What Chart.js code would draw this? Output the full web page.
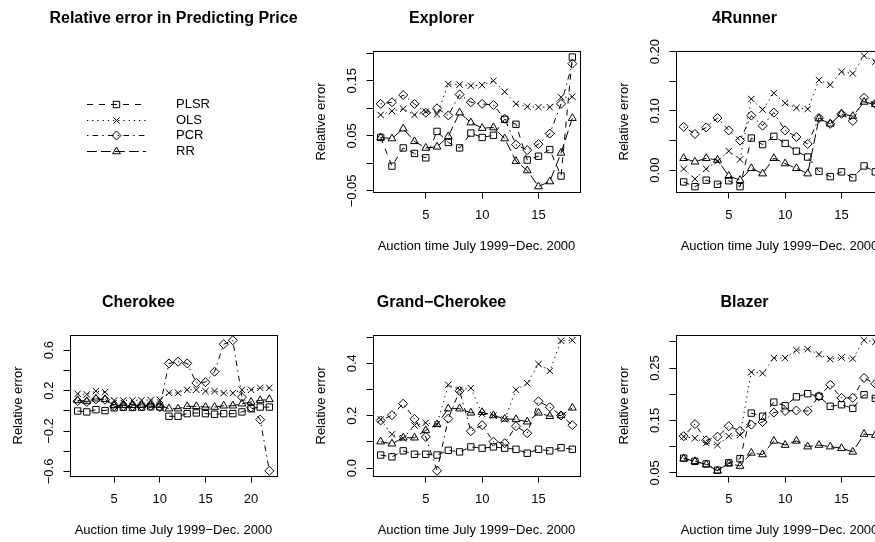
<!DOCTYPE html>
<html>
<head>
<meta charset="utf-8">
<script src="https://cdn.jsdelivr.net/npm/chart.js@4.4.1/dist/chart.umd.min.js"></script>
<style>
  html, body { margin: 0; padding: 0; background: #fff; }
  body { width: 875px; height: 542px; overflow: hidden; position: relative; }
  canvas { position: absolute; }
</style>
</head>
<body>
<canvas id="keyPanel" width="347" height="262" style="left:0px;top:0px"></canvas>
<canvas id="explorer" width="297" height="262" style="left:303px;top:0px"></canvas>
<canvas id="runner" width="297" height="262" style="left:606px;top:0px"></canvas>
<canvas id="cherokee" width="297" height="262" style="left:0px;top:284px"></canvas>
<canvas id="grand" width="297" height="262" style="left:303px;top:284px"></canvas>
<canvas id="blazer" width="297" height="262" style="left:606px;top:284px"></canvas>
<script>
// auction periods
const periods18 = [1, 2, 3, 4, 5, 6, 7, 8, 9, 10, 11, 12, 13, 14, 15, 16, 17, 18];
const periods22 = [1, 2, 3, 4, 5, 6, 7, 8, 9, 10, 11, 12, 13, 14, 15, 16, 17, 18, 19, 20, 21, 22];
const methods = ['PLSR', 'OLS', 'PCR', 'RR'];

// Explorer
const explorerPLSR = [0.047, -0.005, 0.028, 0.018, 0.010, 0.058, 0.038, 0.028, 0.055, 0.047, 0.051, 0.080, 0.071, 0.006, 0.013, 0.025, -0.023, 0.193];
const explorerOLS  = [0.088, 0.095, 0.099, 0.088, 0.094, 0.089, 0.144, 0.143, 0.141, 0.142, 0.150, 0.130, 0.108, 0.103, 0.102, 0.102, 0.120, 0.121];
const explorerPCR  = [0.108, 0.111, 0.124, 0.108, 0.092, 0.100, 0.087, 0.125, 0.111, 0.108, 0.106, 0.081, 0.034, 0.024, 0.035, 0.054, 0.108, 0.181];
const explorerRR   = [0.047, 0.045, 0.063, 0.040, 0.028, 0.030, 0.049, 0.092, 0.074, 0.064, 0.065, 0.045, 0.004, -0.013, -0.042, -0.033, 0.019, 0.082];

// 4Runner
const runnerPLSR = [-0.020, -0.028, -0.017, -0.024, -0.018, -0.028, 0.054, 0.043, 0.057, 0.045, 0.032, 0.022, -0.002, -0.011, -0.003, -0.013, 0.007, -0.003];
const runnerOLS  = [0.002, -0.015, 0.002, 0.015, 0.032, 0.018, 0.120, 0.102, 0.130, 0.113, 0.105, 0.103, 0.152, 0.144, 0.166, 0.163, 0.193, 0.183];
const runnerPCR  = [0.073, 0.061, 0.072, 0.088, 0.067, 0.050, 0.092, 0.075, 0.097, 0.067, 0.056, 0.044, 0.088, 0.078, 0.095, 0.083, 0.122, 0.112];
const runnerRR   = [0.020, 0.014, 0.020, 0.017, -0.010, -0.017, 0.003, -0.006, 0.020, 0.011, 0.003, -0.006, 0.087, 0.078, 0.095, 0.091, 0.115, 0.111];

// Cherokee
const cherokeePLSR = [-0.002, -0.011, 0.011, 0.002, 0.030, 0.035, 0.033, 0.036, 0.040, 0.038, -0.054, -0.054, -0.028, -0.021, -0.028, -0.034, -0.028, -0.028, -0.011, 0.021, 0.037, 0.037];
const cherokeeOLS  = [0.168, 0.162, 0.195, 0.185, 0.103, 0.103, 0.104, 0.105, 0.107, 0.109, 0.178, 0.178, 0.208, 0.208, 0.195, 0.195, 0.175, 0.175, 0.208, 0.208, 0.227, 0.227];
const cherokeePCR  = [0.096, 0.087, 0.113, 0.109, 0.044, 0.044, 0.045, 0.046, 0.048, 0.037, 0.469, 0.486, 0.469, 0.276, 0.283, 0.387, 0.659, 0.698, 0.136, 0.031, -0.087, -0.594];
const cherokeeRR   = [0.103, 0.093, 0.119, 0.113, 0.054, 0.054, 0.055, 0.056, 0.058, 0.056, 0.021, 0.021, 0.044, 0.044, 0.037, 0.037, 0.050, 0.050, 0.070, 0.087, 0.103, 0.113];

// Grand-Cherokee
const grandPLSR = [0.050, 0.043, 0.066, 0.053, 0.053, 0.050, 0.068, 0.062, 0.081, 0.076, 0.081, 0.076, 0.072, 0.057, 0.072, 0.066, 0.078, 0.072];
const grandOLS  = [0.186, 0.129, 0.114, 0.163, 0.173, 0.167, 0.318, 0.299, 0.305, 0.207, 0.201, 0.186, 0.299, 0.324, 0.397, 0.371, 0.486, 0.488];
const grandPCR  = [0.182, 0.202, 0.246, 0.188, 0.119, -0.010, 0.189, 0.295, 0.141, 0.164, 0.101, 0.095, 0.160, 0.133, 0.255, 0.233, 0.201, 0.164];
const grandRR   = [0.101, 0.093, 0.116, 0.116, 0.144, 0.167, 0.227, 0.227, 0.211, 0.213, 0.201, 0.188, 0.186, 0.177, 0.211, 0.198, 0.201, 0.230];

// Blazer
const blazerPLSR = [0.078, 0.072, 0.067, 0.055, 0.069, 0.077, 0.164, 0.158, 0.185, 0.178, 0.195, 0.201, 0.196, 0.177, 0.180, 0.173, 0.199, 0.192];
const blazerOLS  = [0.119, 0.116, 0.107, 0.103, 0.120, 0.122, 0.242, 0.240, 0.269, 0.269, 0.284, 0.286, 0.276, 0.267, 0.270, 0.268, 0.303, 0.300];
const blazerPCR  = [0.120, 0.143, 0.112, 0.119, 0.139, 0.130, 0.142, 0.147, 0.165, 0.168, 0.169, 0.168, 0.196, 0.218, 0.193, 0.193, 0.231, 0.220];
const blazerRR   = [0.077, 0.072, 0.066, 0.054, 0.068, 0.063, 0.088, 0.085, 0.111, 0.103, 0.111, 0.100, 0.103, 0.100, 0.097, 0.090, 0.124, 0.122];

// ticks
const xTicks18 = [5, 10, 15];
const xTicks22 = [5, 10, 15, 20];
const explorerYTicks = [-0.05, 0, 0.05, 0.10, 0.15, 0.20];
const explorerYLabels = ['\u22120.05', '', '0.05', '', '0.15', ''];
const runnerYTicks = [0, 0.05, 0.10, 0.15, 0.20];
const runnerYLabels = ['0.00', '', '0.10', '', '0.20'];
const cherokeeYTicks = [-0.6, -0.4, -0.2, 0, 0.2, 0.4, 0.6];
const cherokeeYLabels = ['\u22120.6', '', '\u22120.2', '', '0.2', '', '0.6'];
const grandYTicks = [0, 0.1, 0.2, 0.3, 0.4, 0.5];
const grandYLabels = ['0.0', '', '0.2', '', '0.4', ''];
const blazerYTicks = [0.05, 0.10, 0.15, 0.20, 0.25, 0.30];
const blazerYLabels = ['0.05', '', '0.15', '', '0.25', ''];

const X_TITLE = 'Auction time July 1999\u2212Dec. 2000';
const Y_TITLE = 'Relative error';
const FONT = '"Liberation Sans", Arial, Helvetica, sans-serif';

Chart.defaults.font.family = FONT;
Chart.defaults.font.size = 13;
Chart.defaults.color = '#000';

// R-ish line types / plotting symbols, one per method
const methodStyle = {
  PLSR: { pointStyle: 'rect',     dash: [6, 6] },
  OLS:  { pointStyle: 'crossRot', dash: [1.3, 3.9] },
  PCR:  { pointStyle: 'rectRot',  dash: [1.4, 4.2, 5.6, 4.2] },
  RR:   { pointStyle: 'triangle', dash: [9.8, 4.2] }
};

const measureCtx = document.createElement('canvas').getContext('2d');
function widestLabel(labels) {
  measureCtx.font = `13px ${FONT}`;
  return Math.max(...labels.map(l => measureCtx.measureText(l).width));
}

function snap(v) {
  return Math.round(v - 0.5) + 0.5;
}

/* === full box round the plot region === */
const plotBoxPlugin = {
  id: 'plotBox',
  afterDraw(chart) {
    const a = chart.chartArea;
    const ctx = chart.ctx;
    ctx.save();
    ctx.strokeStyle = '#000';
    ctx.lineWidth = 1;
    ctx.setLineDash([]);
    const l = snap(a.left), t = snap(a.top), r = snap(a.right), b = snap(a.bottom);
    ctx.strokeRect(l, t, r - l, b - t);
    ctx.restore();
  }
};

/* === legend panel: line sample + symbol + name === */
const seriesKeyPlugin = {
  id: 'seriesKey',
  afterDraw(chart) {
    const a = chart.chartArea;
    const ctx = chart.ctx;
    const x0 = a.left + 87, x1 = a.left + 146, xm = (x0 + x1) / 2, xt = a.left + 176;
    ctx.save();
    ctx.strokeStyle = '#000';
    ctx.fillStyle = '#000';
    ctx.lineWidth = 1;
    ctx.font = `13px ${FONT}`;
    ctx.textBaseline = 'middle';
    ctx.textAlign = 'left';
    chart.data.datasets.forEach((ds, i) => {
      const y = Math.round(a.top + 53 + i * 15.67) + 0.5;
      ctx.setLineDash(ds.borderDash);
      ctx.beginPath();
      ctx.moveTo(x0, y);
      ctx.lineTo(x1, y);
      ctx.stroke();
      ctx.setLineDash([]);
      ctx.fillStyle = 'rgba(0,0,0,0)';
      Chart.helpers.drawPoint(ctx, { pointStyle: ds.pointStyle, rotation: 0, radius: 4.5, borderWidth: 1 }, xm, y);
      ctx.fillStyle = '#000';
      ctx.fillText(ds.label, xt, y);
    });
    ctx.restore();
  }
};

function titleOptions(text) {
  return {
    display: true,
    text: text,
    color: '#000',
    font: { size: 16, weight: 'bold', lineHeight: 1.2 },
    padding: { top: 9.4, bottom: 22.4 }
  };
}

function makeDatasets(series) {
  return series.map((values, k) => {
    const st = methodStyle[methods[k]];
    return {
      label: methods[k],
      data: values.map((v, i) => ({ x: i + 1, y: v })),
      borderColor: '#000',
      borderWidth: 1,
      borderDash: st.dash,
      pointStyle: st.pointStyle,
      pointRadius: 4.5,
      pointBorderWidth: 1,
      pointBorderColor: '#000',
      pointBackgroundColor: 'rgba(0,0,0,0)',
      fill: false,
      tension: 0,
      clip: false
    };
  });
}

function makePanel(id, title, periods, series, xTicks, yTicks, yLabels, yMin, yMax) {
  const n = periods.length;
  const ext = 0.04 * (periods[n - 1] - periods[0]);
  const tickPad = 21 - 6.5 - widestLabel(yLabels.filter(l => l)) / 2;
  const axisGrid = { display: true, drawOnChartArea: false, drawTicks: true, tickLength: 6.5, color: '#000', lineWidth: 1 };
  return new Chart(document.getElementById(id), {
    type: 'line',
    data: { datasets: makeDatasets(series) },
    options: {
      responsive: false,
      animation: false,
      events: [],
      layout: { autoPadding: false, padding: { left: 0, right: 20, top: 0, bottom: 0 } },
      plugins: {
        legend: { display: false },
        tooltip: { enabled: false },
        title: titleOptions(title)
      },
      scales: {
        x: {
          type: 'linear',
          min: periods[0] - ext,
          max: periods[n - 1] + ext,
          afterBuildTicks: s => { s.ticks = xTicks.map(v => ({ value: v })); },
          afterFit: s => { s.height = 70; },
          grid: axisGrid,
          border: { display: true, color: '#000', width: 1 },
          ticks: { autoSkip: false, maxRotation: 0, padding: 9.2, callback: v => String(v) },
          title: { display: true, text: X_TITLE, padding: { top: 0, bottom: 7.7 } }
        },
        y: {
          type: 'linear',
          min: yMin,
          max: yMax,
          afterBuildTicks: s => { s.ticks = yTicks.map(v => ({ value: v })); },
          afterFit: s => { s.width = 70; },
          grid: axisGrid,
          border: { display: true, color: '#000', width: 1 },
          ticks: { autoSkip: false, minRotation: 90, maxRotation: 90, crossAlign: 'center', padding: tickPad, callback: (v, i) => yLabels[i] },
          title: { display: true, text: Y_TITLE, padding: { top: 10.2, bottom: 0 } }
        }
      }
    },
    plugins: [plotBoxPlugin]
  });
}

/* === legend panel === */
new Chart(document.getElementById('keyPanel'), {
  type: 'line',
  data: {
    datasets: methods.map(m => ({
      label: m,
      data: [],
      borderDash: methodStyle[m].dash,
      pointStyle: methodStyle[m].pointStyle
    }))
  },
  options: {
    responsive: false,
    animation: false,
    events: [],
    layout: { autoPadding: false, padding: 0 },
    scales: { x: { display: false }, y: { display: false } },
    plugins: {
      legend: { display: false },
      tooltip: { enabled: false },
      title: titleOptions('Relative error in Predicting Price')
    }
  },
  plugins: [seriesKeyPlugin]
});

makePanel('explorer', 'Explorer', periods18,
  [explorerPLSR, explorerOLS, explorerPCR, explorerRR],
  xTicks18, explorerYTicks, explorerYLabels, -0.052, 0.204);

makePanel('runner', '4Runner', periods18,
  [runnerPLSR, runnerOLS, runnerPCR, runnerRR],
  xTicks18, runnerYTicks, runnerYLabels, -0.037, 0.201);

makePanel('cherokee', 'Cherokee', periods22,
  [cherokeePLSR, cherokeeOLS, cherokeePCR, cherokeeRR],
  xTicks22, cherokeeYTicks, cherokeeYLabels, -0.645, 0.750);

makePanel('grand', 'Grand\u2212Cherokee', periods18,
  [grandPLSR, grandOLS, grandPCR, grandRR],
  xTicks18, grandYTicks, grandYLabels, -0.030, 0.508);

makePanel('blazer', 'Blazer', periods18,
  [blazerPLSR, blazerOLS, blazerPCR, blazerRR],
  xTicks18, blazerYTicks, blazerYLabels, 0.044, 0.313);
</script>
</body>
</html>
